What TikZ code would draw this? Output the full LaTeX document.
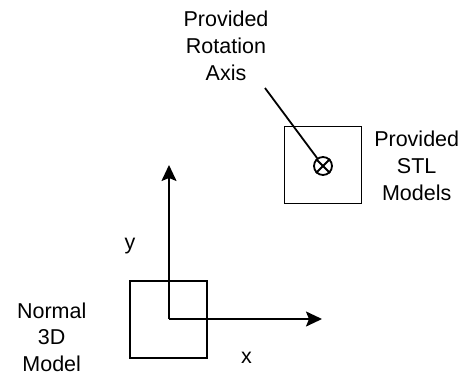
\documentclass[tikz,border=0pt]{standalone}
\usepackage{fontspec}
\setmainfont{Liberation Sans}
\usetikzlibrary{arrows.meta}
\begin{document}
\begin{tikzpicture}[x=1pt,y=-1pt,
  lbl/.style={inner sep=0pt, align=center, font=\fontsize{21.5}{27}\selectfont},
  boxsq/.style={draw, line width=1.8pt, minimum width=77pt, minimum height=77pt, inner sep=0pt},
  axisarrow/.style={line width=1.8pt, -{Stealth[length=16pt, width=15pt, inset=3pt]}},
  thin/.style={line width=1.8pt}]
\useasboundingbox (0,0) rectangle (466,378);
% squares
\node[boxsq] (stl) at (323,165) {};
\node[boxsq] (model) at (168.5,319.5) {};
% axes
\coordinate (origin) at (169,319);
\coordinate (ytip) at (169,165);
\coordinate (xtip) at (322,319);
\draw[axisarrow] (origin) -- (ytip);
\draw[axisarrow] (origin) -- (xtip);
% rotation axis symbol
\node[draw, circle, thin, minimum size=18pt, inner sep=0pt] (ax) at (323,166) {};
\draw[thin] (ax.north east) -- (ax.south west);
\draw[thin] (ax.north west) -- (ax.south east);
\coordinate (lt) at (265,88);
\draw[thin] (lt) -- (ax);
% labels
\node[lbl] (rotlbl) at (226,46.2) {Provided\\Rotation\\Axis};
\node[lbl] (stllbl) at (416.7,166) {Provided\\STL\\Models};
\node[lbl, font=\fontsize{21.5}{26.5}\selectfont] (normlbl) at (51.7,337) {Normal\\3D\\Model};
\node[lbl, anchor=base] (ylbl) at (130,249) {y};
\node[lbl, anchor=base] (xlbl) at (246.5,363) {x};
\end{tikzpicture}
\end{document}
